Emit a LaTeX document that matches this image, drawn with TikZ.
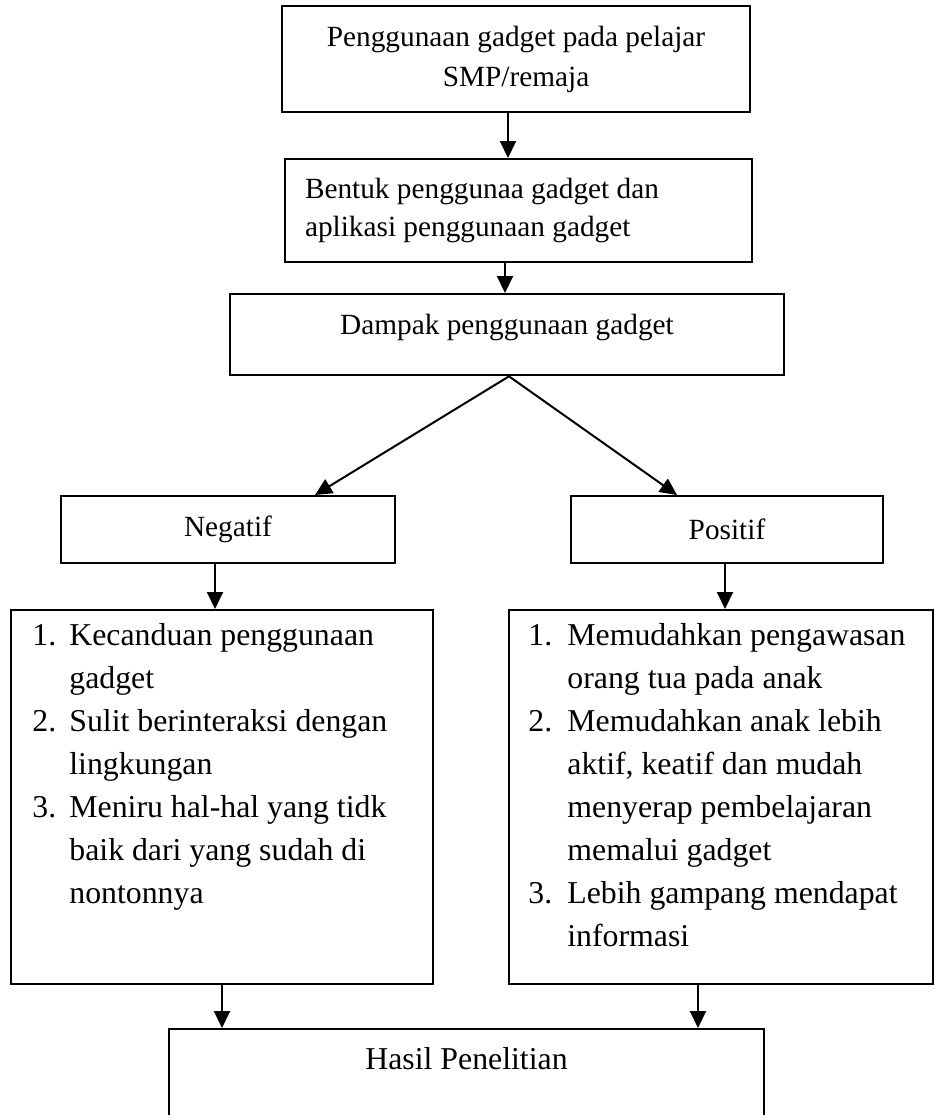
\documentclass[tikz,border=0pt]{standalone}
\usepackage{fontspec}
\setmainfont{Liberation Serif}
\usetikzlibrary{arrows.meta}
\newcommand*{\boxfont }{\fontsize{14.65}{20}\selectfont}
\newcommand*{\formfont}{\fontsize{14.65}{19}\selectfont}
\newcommand*{\listfont}{\fontsize{15.9}{21.5}\selectfont}
\tikzset{
    box/.style={draw, line width=1pt, inner sep=0pt},
    arr/.style={-{Triangle[length=8.5pt,width=8pt]}, line width=1pt},
}

\begin{document}
\begin{tikzpicture}[x=0.5pt, y=-0.5pt]
    \useasboundingbox (0,0) rectangle (934,1115);
    \clip (0,0) rectangle (934,1115);
        \node [box, minimum width=234pt, minimum height=53pt, align=center, font=\boxfont] (use) at (516,59) {Penggunaan gadget pada pelajar\\SMP/remaja};
        \node [box, minimum width=233.5pt, minimum height=51.5pt, text width=213.5pt, inner xsep=10pt, align=flush left, font=\formfont] (form) at (518.5,210.5) {Bentuk penggunaa gadget dan\\aplikasi penggunaan gadget};
        \node [box, minimum width=277pt, inner ysep=10pt, text depth=10.5pt, anchor=north, font=\boxfont] (impact) at (507,293) {Dampak penggunaan gadget};
        \node [box, minimum width=167pt, minimum height=33.5pt, font=\boxfont] (neg) at (228,529.5) {Negatif};
        \node [box, minimum width=156pt, minimum height=33.5pt, font=\boxfont] (pos) at (727,529.5) {Positif};
        \node [box, minimum width=211pt, minimum height=187pt] (negList) at (222,797) {};
        \node [box, minimum width=212pt, minimum height=187pt] (posList) at (721,797) {};
        \node [anchor=north west, inner sep=0pt, font=\listfont] (negItems) at ([shift={(11pt,-3pt)}]negList.north west) {\begin{tabular}{@{}p{18.5pt}@{}l@{}}
            1.&Kecanduan penggunaan\\ &gadget\\
            2.&Sulit berinteraksi dengan\\ &lingkungan\\
            3.&Meniru hal-hal yang tidk\\ &baik dari yang sudah di\\ &nontonnya
        \end{tabular}};
        \node [anchor=north west, inner sep=0pt, font=\listfont] (posItems) at ([shift={(10pt,-3pt)}]posList.north west) {\begin{tabular}{@{}p{19.5pt}@{}l@{}}
            1.&Memudahkan pengawasan\\ &orang tua pada anak\\
            2.&Memudahkan anak lebih\\ &aktif, keatif dan mudah\\ &menyerap pembelajaran\\ &memalui gadget\\
            3.&Lebih gampang mendapat\\ &informasi
        \end{tabular}};
        \node [box, minimum width=297.5pt, inner ysep=9pt, text depth=60pt, anchor=north, font=\listfont] (result) at (466.5,1028) {Hasil Penelitian};
        % arrows
        \draw [arr] ([xshift=-4pt]use.south) -- ([xshift=-4pt]use.south |- form.north);
        \draw [arr] ([xshift=-1pt]impact.north |- form.south) -- ([xshift=-1pt]impact.north);
        \draw [arr] ([xshift=1pt]impact.south) -- ([xshift=43.5pt]neg.north);
        \draw [arr] ([xshift=1pt]impact.south) -- ([xshift=-25pt]pos.north);
        \draw [arr] ([xshift=-6.5pt]neg.south) -- ([xshift=-6.5pt]neg.south |- negList.north);
        \draw [arr] ([xshift=-1pt]pos.south) -- ([xshift=-1pt]pos.south |- posList.north);
        \draw [arr] (negList.south) -- (negList.south |- result.north);
        \draw [arr] ([xshift=-11.5pt]posList.south) -- ([xshift=-11.5pt]posList.south |- result.north);
\end{tikzpicture}
\end{document}
